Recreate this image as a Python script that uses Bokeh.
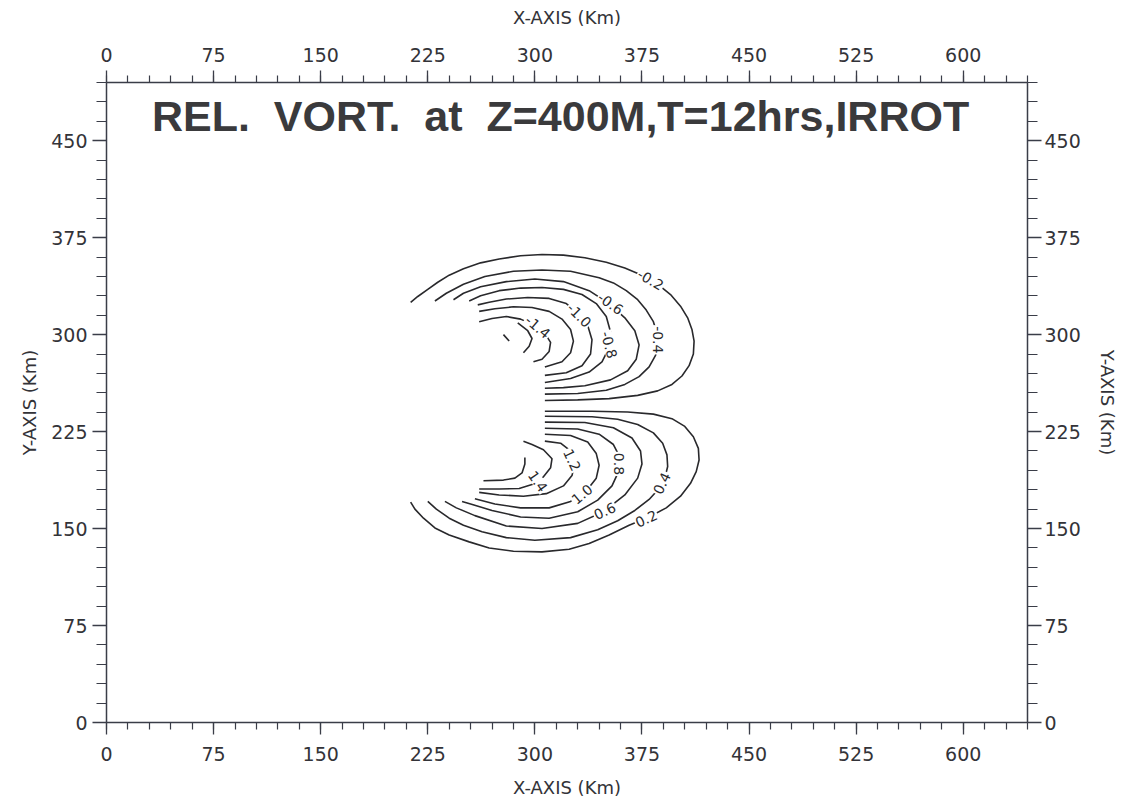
from bokeh.plotting import figure
from bokeh.models import LinearAxis, SingleIntervalTicker, ColumnDataSource, Label
from bokeh.embed import file_html
from bokeh.resources import INLINE
from bokeh.core.properties import value

# ---------------- axes ----------------
X_RANGE = (0, 645)
Y_RANGE = (0, 495)
TICK_STEP = 75
X_LABEL = "X-AXIS (Km)"
Y_LABEL = "Y-AXIS (Km)"
TITLE = "REL.\u00a0 VORT.\u00a0 at\u00a0 Z=400M,T=12hrs,IRROT"

# ---------------- contour lines (km) ----------------
# upper lobe (negative vorticity)
m02_x = [213, 218, 225, 232, 240, 250, 262, 275, 290, 305, 320, 335, 350, 363, 375, 386, 395, 402, 407,
         410, 411.5, 411, 408, 403, 396, 386, 372, 352, 330, 307]
m02_y = [325, 329.5, 335, 340.5, 346, 351, 355.5, 358.5, 361, 362, 361.5, 359.5, 356, 351.5, 346, 339, 331,
         322, 313, 304, 295, 285, 276, 268, 261.5, 256.5, 253, 250.5, 249.5, 249]
m04_x = [230, 238, 250, 265, 285, 305, 325, 345, 355, 364, 372, 378, 383, 385.5, 386, 384.5, 380, 373,
         363, 350, 330, 307]
m04_y = [326, 332, 339, 345, 349, 350, 349, 344, 340, 334, 327, 319, 310, 301, 293, 284, 275, 267.5,
         261.5, 257, 254.5, 254]
m06_x = [243, 250, 262, 280, 300, 320, 338, 352, 363, 370, 373, 371, 365, 353, 335, 320, 307]
m06_y = [327, 332, 337, 341, 343, 341, 334, 324, 313, 303, 292, 281, 272, 265, 260.5, 259, 258.5]
m08_x = [254, 262, 275, 290, 305, 320, 333, 343, 350, 353, 352, 347, 338, 325, 307]
m08_y = [326, 330, 334, 336, 336.5, 335, 331, 324, 314, 302, 290, 279, 271, 266, 263]
m10_x = [260, 268, 280, 295, 310, 322, 331, 337, 340, 339, 333, 322, 307]
m10_y = [323, 325, 327.5, 328.7, 328, 324, 316, 307, 296, 285, 276, 270.5, 268.5]
m12_x = [261, 272, 285, 298, 310, 319, 325, 327, 325, 319, 307]
m12_y = [318, 320, 321.5, 321, 318, 312, 304, 295, 286, 279, 275]
m14_x = [261, 270, 280, 290, 300, 307, 311, 310, 305, 299]
m14_y = [310, 312.5, 314, 312, 307, 301, 294, 287, 281, 279]
m16_x = [288, 295, 298, 296, 292]
m16_y = [309, 303, 297, 291, 286]
m16b_x = [278, 282]
m16b_y = [300, 295]

# lower lobe (positive vorticity)
p02_x = [307, 340, 365, 383, 396, 405, 411, 414.5, 415, 413, 409, 402, 392, 380, 366, 352, 338, 324,
         305, 285, 268, 254, 240, 230, 222, 216, 213]
p02_y = [240.7, 240.7, 240.2, 238.5, 235, 229, 221, 212, 203, 194, 185, 175, 166, 159, 152.5, 145,
         138.5, 134, 132, 132.5, 135, 139.7, 145, 150.5, 158, 165, 170.5]
p04_x = [307, 340, 358, 372, 383, 389.5, 392.5, 393, 391, 387, 380, 370, 358, 344, 325, 300, 280, 263,
         250, 240, 231, 225]
p04_y = [236.9, 236.5, 234.5, 230.5, 224, 216, 207, 198, 189, 181, 172.5, 164, 156, 149, 143, 141,
         143, 147.5, 152.5, 158, 165, 171]
p06_x = [307, 335, 355, 368, 374, 375, 372, 363, 348, 330, 305, 280, 258, 245, 237]
p06_y = [232.3, 232, 228, 220, 210, 200, 189, 176, 163, 154, 150, 152, 160, 166, 171]
p08_x = [307, 330, 345, 355, 359.6, 359, 354, 344, 330, 310, 290, 270, 255, 249]
p08_y = [227.6, 227, 223, 215, 205, 195, 183, 172, 163, 158, 159, 164, 169, 171]
p10_x = [307, 325, 337, 343, 345, 343, 336, 325, 310, 290, 272, 258]
p10_y = [223, 222, 217, 208, 199, 189, 179, 171, 166, 166, 169, 173]
p12_x = [307, 318, 325, 328, 326, 320, 308, 292, 275, 261]
p12_y = [217.6, 216, 210, 201, 191, 183, 177, 175, 176, 178]
p14_x = [261, 275, 289, 298, 306, 311, 312, 306, 298, 292]
p14_y = [180.6, 180.6, 181, 184, 190, 197, 204, 211, 215, 217.6]
p16_x = [264, 278, 286, 291, 293, 293]
p16_y = [187, 187.5, 189, 193, 200, 205]

contour_xs = [m02_x, m04_x, m06_x, m08_x, m10_x, m12_x, m14_x, m16_x, m16b_x,
              p02_x, p04_x, p06_x, p08_x, p10_x, p12_x, p14_x, p16_x]
contour_ys = [m02_y, m04_y, m06_y, m08_y, m10_y, m12_y, m14_y, m16_y, m16b_y,
              p02_y, p04_y, p06_y, p08_y, p10_y, p12_y, p14_y, p16_y]

# contour labels
label_text = ["-0.2", "-0.4", "-0.6", "-0.8", "-1.0", "-1.4",
              "0.2", "0.4", "0.6", "0.8", "1.0", "1.2", "1.4"]
label_x = [381, 386, 353, 352, 331, 302, 378, 389, 349, 359, 333, 326, 302]
label_y = [342.5, 296, 324, 292, 315, 306, 157.5, 185, 163.5, 200, 176.5, 203, 186.5]
label_angle = [-30, -90, -35, -75, -45, -40, 25, 65, 25, -90, 40, -65, -55]

INK = "#29292c"
AXIS_INK = "#3a3d48"

p = figure(width=1131, height=806, x_range=X_RANGE, y_range=Y_RANGE,
           output_backend="svg", toolbar_location=None,
           min_border_left=106, min_border_right=104,
           min_border_top=82, min_border_bottom=84,
           background_fill_color="white", border_fill_color="white")
p.outline_line_color = None
p.xgrid.visible = False
p.ygrid.visible = False

p.add_layout(LinearAxis(), "above")
p.add_layout(LinearAxis(), "right")


def style_axis(ax, label, is_y, label_standoff, axis_standoff):
    ax.ticker = SingleIntervalTicker(interval=TICK_STEP, num_minor_ticks=5)
    ax.axis_label = label
    ax.axis_line_color = AXIS_INK
    ax.axis_line_width = 1.5
    ax.major_tick_line_color = AXIS_INK
    ax.minor_tick_line_color = AXIS_INK
    ax.major_tick_line_width = 1.3
    ax.minor_tick_line_width = 1.2
    ax.major_tick_in = 0
    ax.minor_tick_in = 0
    ax.major_tick_out = 14 if is_y else 12
    ax.minor_tick_out = 10 if is_y else 7
    ax.major_label_text_font = "DejaVu Sans"
    ax.major_label_text_font_size = "19px"
    ax.major_label_text_color = "#333338"
    ax.major_label_standoff = label_standoff
    ax.axis_label_text_font = "DejaVu Sans"
    ax.axis_label_text_font_size = "18px"
    ax.axis_label_text_font_style = "normal"
    ax.axis_label_text_color = "#333338"
    ax.axis_label_standoff = axis_standoff


style_axis(p.below[0], X_LABEL, False, 12, 13)
style_axis(p.above[0], X_LABEL, False, 9, 17)
style_axis(p.left[0], Y_LABEL, True, 5, 8)
style_axis(p.right[0], Y_LABEL, True, 3, 13)

p.multi_line(xs=contour_xs, ys=contour_ys, line_color=INK, line_width=1.6)

lab_src = ColumnDataSource(dict(x=label_x, y=label_y, text=label_text, angle=label_angle))
p.text(x="x", y="y", text="text", angle="angle", angle_units="deg", source=lab_src,
       text_font=value("DejaVu Sans"), text_font_size="14px", text_color=INK,
       text_align="center", text_baseline="middle",
       background_fill_color="white", padding=1)

title = Label(x=318, y=469, text=TITLE, text_align="center", text_baseline="middle",
              text_font="Liberation Sans", text_font_style="bold",
              text_font_size="43px", text_color="#3a3a3c")
p.add_layout(title)

open("out.html", "w").write(file_html(p, INLINE))
